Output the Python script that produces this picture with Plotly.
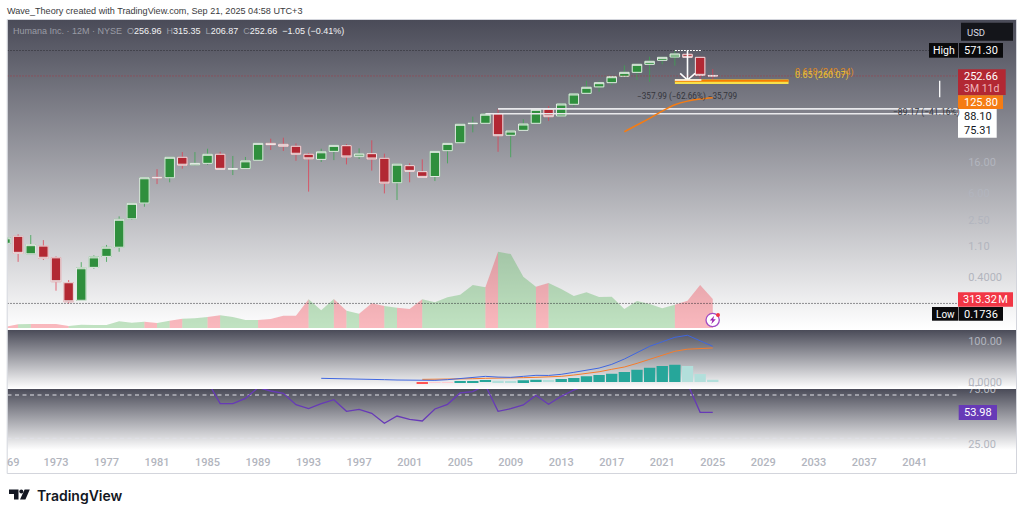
import plotly.graph_objects as go

W, H = 1024, 517

# ---------- data ----------
years = list(range(1969, 2026))
opens = [1.19,1.49,.851,1.09,.748,.337,.192,.551,.783,1.05,2.61,4.32,9.85,9.71,18.7,14.7,15.4,20.6,12.7,13.0,
         17.0,29.2,28.3,26.6,20.6,17.5,22.6,27.1,19.1,21.0,18.1,8.28,14.3,11.8,10.1,23.1,29.8,54.8,55.5,75.31,
         37.8,44.3,55.5,87.4,70.3,102,145,178,204,250,284,367,417,464,506,459,256.96]
highs = [1.42,1.59,1.55,1.32,.783,.367,.651,.811,1.13,2.82,4.28,9.71,12.8,18.7,22.1,22.1,24.6,22.3,19.5,18.9,
         29.2,33.9,35.0,29.2,21.5,24.6,27.4,28.6,24.9,32.2,21.0,15.0,15.4,17.5,22.6,29.2,53.8,68.6,77.7,88.10,
         43.4,63.4,90.3,96.5,106,146,217,215,247,356,367,468,459,571.30,541,468,315.35]
lows = [1.19,.657,.851,.697,.261,.1736,.190,.527,.657,.908,2.53,3.84,7.94,8.40,13.0,14.5,14.7,12.7,10.6,13.0,
        17.0,23.6,22.9,16.7,6.23,16.1,17.1,14.9,17.7,12.2,5.88,4.76,8.40,9.83,8.74,15.4,29.8,41.6,55.5,22.3,
        18.7,44.3,55.5,60.0,70.3,94.3,145,153,189,250,222,210,367,351,423,210,206.87]
closes = [1.42,.863,1.14,.737,.348,.183,.544,.771,1.05,2.57,4.28,9.71,9.71,18.7,14.5,15.4,20.6,12.7,13.0,16.7,
          29.2,28.0,26.6,20.6,17.8,22.3,27.4,18.9,20.8,17.7,8.17,15.0,11.9,9.83,22.6,29.2,53.8,55.5,74.3,37.3,
          43.4,54.3,86.8,68.6,103,142,176,204,247,284,367,404,459,511,459,258,252.66]
volume_m = [14,40,43,43,43,22,36,32,32,72,58,68,54,79,101,104,119,137,119,86,86,97,133,133,310,191,313,187,155,266,
            238,220,205,310,277,331,360,464,440,824,799,554,446,486,421,346,386,335,338,205,292,259,213,252,295,464,313.32]

ma_years = [2018,2019,2020,2021,2022,2023,2024,2025]
ma_values = [42.4,52.6,65,82,100.5,113,121,125.80]

macd_years = list(range(1994, 2026))
macd_line = [9,8,7.7,7.3,6.5,5.7,4.9,4,3.2,4,5.7,8,11.4,13.8,12,11.4,13.8,16.3,16,18.7,23.6,28.5,34,43,56,71.5,87,98,109,114,101,87]
signal_years = list(range(2002, 2026))
signal_line = [6.5,6.5,6.5,6.5,8,9,9,9,10.6,11.4,12.2,13.8,17,21,25,31,36.6,45.5,55,66,75,80,82,83]
hist_years = list(range(2002, 2026))
hist_values = [-3.5,-1.5,-1,2,2.3,5,3,2.5,4,5.7,5,7.3,9.8,13.8,17,20.3,24.4,30,35,39,42.3,39,19.5,5.7]

rsi_years = list(range(1985, 2026))
rsi_values = [82.6,62,62,66.9,76.8,73.7,71.5,61.1,57.4,62,65.7,54.9,56.8,53.1,43.9,50.6,47.5,46,57.1,61.4,71.9,73.1,79,
              54.9,57.4,60.8,69.7,61.4,68.8,74.6,79,79,80,81,82,84,83,82,80.5,54,53.98]

year_ticks = list(range(1973, 2045, 4))
price_ticks = [16, 6, 2.5, 1.1, 0.4]
price_tick_text = ['16.00', '6.00', '2.50', '1.10', '0.4000']

high_price, low_price, last_price = 571.30, 0.1736, 252.66
level_upper, level_lower = 88.10, 75.31
fib_orange, fib_yellow, fib_white = 217, 210, 222
# -------------------------

x_range = [1973 - (56 - 7.5) / 12.63, 1973 + (958 - 56) / 12.63]
log_range = [-1.116, 3.181]

def dom(top, bottom):
    return [(H - bottom) / H, (H - top) / H]

fig = go.Figure()

# pane backgrounds on a full-page helper axis
DARK = '#4a4b58'
for top, bottom in [(20, 329), (330, 388.5), (389, 450)]:
    fig.add_trace(go.Scatter(
        x=[7.5, 1016, 1016, 7.5, 7.5], y=[top, top, bottom, bottom, top], mode='none', fill='toself',
        fillgradient=dict(type='vertical', start=top, stop=bottom,
                          colorscale=[[0, DARK], [1, '#ffffff']]),
        xaxis='x', yaxis='y', hoverinfo='skip', showlegend=False))

# volume area: one filled run per candle direction
GREEN_FILL = 'rgba(76,175,80,0.35)'
RED_FILL = 'rgba(242,54,69,0.35)'
runs, start = [], 0
def seg_up(i):  # segment i -> i+1 follows the direction of the later candle
    return closes[i + 1] >= opens[i + 1]
for i in range(len(years) - 1):
    if i == len(years) - 2 or seg_up(i + 1) != seg_up(i):
        runs.append((start, i + 1, seg_up(i)))
        start = i + 1
for a, b, up in runs:
    fig.add_trace(go.Scatter(
        x=years[a:b + 1], y=volume_m[a:b + 1], mode='none', fill='tozeroy',
        fillcolor=GREEN_FILL if up else RED_FILL, xaxis='x2', yaxis='y2',
        hoverinfo='skip', showlegend=False))

P = dict(xaxis='x2', yaxis='y3', hoverinfo='skip', showlegend=False)

# reference lines on the price pane
fig.add_trace(go.Scatter(x=x_range, y=[high_price] * 2, mode='lines', line=dict(color='#2a2b30', width=1, dash='1px,2px'), **P))
fig.add_trace(go.Scatter(x=x_range, y=[low_price] * 2, mode='lines', line=dict(color='#2a2b30', width=1, dash='1px,2px'), **P))
fig.add_trace(go.Scatter(x=x_range, y=[last_price] * 2, mode='lines', line=dict(color='rgba(178,40,51,0.75)', width=1, dash='1px,2px'), **P))
fig.add_trace(go.Scatter(x=[2008, x_range[1]], y=[level_upper] * 2, mode='lines', line=dict(color='#e9e9ec', width=1.6), **P))
fig.add_trace(go.Scatter(x=[2007, x_range[1]], y=[level_lower] * 2, mode='lines', line=dict(color='#e9e9ec', width=1.6), **P))

# measurement arrow, under the candles
fig.add_trace(go.Scatter(x=[2022, 2024.1], y=[high_price] * 2, mode='lines', line=dict(color='#ffffff', width=1.2, dash='2px,1px'), **P))
fig.add_trace(go.Scatter(x=[2023, 2023], y=[high_price, fib_white], mode='lines', line=dict(color='#ffffff', width=1.6), **P))
fig.add_trace(go.Scatter(x=[2022.42, 2023, 2023.6], y=[275, fib_white, 275], mode='lines', line=dict(color='#ffffff', width=1.6), **P))

# wicks (coloured) then bodies (white outline)
GREEN, RED = '#2f8f3d', '#b22833'
fig.add_trace(go.Candlestick(
    x=years, open=opens, high=highs, low=lows, close=closes, whiskerwidth=0,
    increasing=dict(line=dict(color='rgba(60,165,80,0.8)', width=1), fillcolor=GREEN),
    decreasing=dict(line=dict(color='rgba(225,60,80,0.75)', width=1), fillcolor=RED), **P))
fig.add_trace(go.Candlestick(
    x=years, open=opens, close=closes, whiskerwidth=0,
    high=[max(o, c) for o, c in zip(opens, closes)], low=[min(o, c) for o, c in zip(opens, closes)],
    increasing=dict(line=dict(color='rgba(238,238,238,0.95)', width=1), fillcolor=GREEN),
    decreasing=dict(line=dict(color='rgba(238,238,238,0.95)', width=1), fillcolor=RED), **P))

# moving average
fig.add_trace(go.Scatter(x=ma_years, y=ma_values, mode='lines', line=dict(color='#f57c13', width=1.5, shape='spline'), **P))

# fibonacci band
fig.add_trace(go.Scatter(x=[2022, 2031], y=[fib_yellow] * 2, mode='lines', line=dict(color='#f7e04b', width=4.5), **P))
fig.add_trace(go.Scatter(x=[2022, 2031], y=[fib_orange] * 2, mode='lines', line=dict(color='#f57c00', width=2), **P))
fig.add_trace(go.Scatter(x=[2022, 2024.1], y=[fib_white] * 2, mode='lines', line=dict(color='#ffffff', width=1.5), **P))

# MACD pane
def hist_color(i):
    v, prev = hist_values[i], hist_values[i - 1] if i else 0
    if v >= 0:
        return '#26a69a' if v > prev else '#b2dfdb'
    return '#ff5252' if v < prev else '#ffcdd2'
fig.add_trace(go.Bar(x=hist_years, y=hist_values, width=0.9,
                     marker=dict(color=[hist_color(i) for i in range(len(hist_values))], line_width=0),
                     xaxis='x2', yaxis='y4', hoverinfo='skip', showlegend=False))
fig.add_trace(go.Scatter(x=signal_years, y=signal_line, mode='lines', line=dict(color='#f57c2b', width=1),
                         xaxis='x2', yaxis='y4', hoverinfo='skip', showlegend=False))
fig.add_trace(go.Scatter(x=macd_years, y=macd_line, mode='lines', line=dict(color='#3f66e0', width=1),
                         xaxis='x2', yaxis='y4', hoverinfo='skip', showlegend=False))

# RSI pane
for lvl in (70, 30):
    fig.add_trace(go.Scatter(x=x_range, y=[lvl, lvl], mode='lines', line=dict(color='#e2e2e8', width=1, dash='4px,3.5px'),
                             xaxis='x2', yaxis='y5', hoverinfo='skip', showlegend=False))
fig.add_trace(go.Scatter(x=rsi_years, y=rsi_values, mode='lines', line=dict(color='#673ab7', width=1.3),
                         xaxis='x2', yaxis='y5', hoverinfo='skip', showlegend=False))

# ---------- furniture drawn in page pixels ----------
shapes, ann = [], []
def rect(x0, y0, x1, y1, color):
    shapes.append(dict(type='rect', xref='x', yref='y', x0=x0, x1=x1, y0=y0, y1=y1,
                       fillcolor=color, line=dict(width=0), layer='above'))
def text(x, y, s, size=11, color='#ffffff', anchor='center', font='Roboto', weight=None):
    f = dict(size=size, color=color, family=font)
    if weight: f['weight'] = weight
    ann.append(dict(x=x, y=y, xref='x', yref='y', text=s, showarrow=False, xanchor=anchor, yanchor='middle',
                    font=f, borderpad=0, borderwidth=0))

# clip the tick label that sticks out above the RSI pane
rect(958, 386.5, 1016, 389, '#ffffff')
shapes.append(dict(type='rect', xref='x', yref='y', x0=7.2, x1=1016.5, y0=19.5, y1=473.5,
                   line=dict(color='#d3d5dc', width=1), layer='above'))

rect(961, 22.7, 1013, 40.7, '#14151a')
text(967, 32, 'USD', 9.5, '#d9dae0', 'left')
rect(929, 43, 958, 57.7, '#0a0a0c'); text(943.5, 50.5, 'High', 10.5)
rect(959, 43, 1003, 57.7, '#0a0a0c'); text(981, 50.5, '571.30', 11)
rect(958, 69.3, 1005.7, 95, RED); text(981, 76.2, '252.66', 11); text(981, 88, '3M 11d', 10.5, '#f0b6bb')
rect(958, 95.3, 1003, 109, '#f57c13'); text(981, 102.3, '125.80', 11)
rect(958, 109, 996.7, 137.7, '#ffffff'); text(977.5, 116.5, '88.10', 11, '#131722'); text(977.5, 130.5, '75.31', 11, '#131722')
rect(958, 292.3, 1013, 306.7, '#f23645'); text(985.5, 299.5, '313.32\u202fM', 11)
rect(932, 307, 958, 320.7, '#0a0a0c'); text(945, 314, 'Low', 10)
rect(958.5, 307, 1003, 320.7, '#0a0a0c'); text(981, 314, '0.1736', 11)
rect(958.7, 405, 997, 420, '#673ab7'); text(978, 412.6, '53.98', 11)

# small white tick near the scale
shapes.append(dict(type='line', xref='x', yref='y', x0=939.7, x1=939.7, y0=80.7, y1=97.3,
                   line=dict(color='#ffffff', width=1.3), layer='above'))

text(7, 11, 'Wave_Theory created with TradingView.com, Sep 21, 2025 04:58 UTC+3', 9.1, '#3a3b40', 'left', 'Liberation Sans')
G, Wh = '#9a9ca5', '#f2f2f4'
nb = '\u00a0'
legend = (f'<span style="color:{G}">Humana Inc. · 12M · NYSE{nb}{nb}O</span><span style="color:{Wh}">256.96{nb}{nb}</span>'
          f'<span style="color:{G}">H</span><span style="color:{Wh}">315.35{nb}{nb}</span>'
          f'<span style="color:{G}">L</span><span style="color:{Wh}">206.87{nb}{nb}</span>'
          f'<span style="color:{G}">C</span><span style="color:{Wh}">252.66{nb}{nb}−1.05 (−0.41%)</span>')
text(13, 31, legend, 9, Wh, 'left', 'Liberation Sans')

text(687, 96, '−357.99 (−62.66%) −35,799', 8.2, '#34353c')
text(926, 112.3, '−89.17 (−41.16%)', 8.5, '#34353c')
text(795, 72, '0.618 (249.34)', 9, '#e08a1e', 'left')
text(795, 75.3, '0.65 (260.07)', 9, '#e6c53a', 'left')
text(7, 462, '69', 11, '#b2b5be', 'left', 'Roboto', 500)

# lightning badge
shapes.append(dict(type='circle', xref='x', yref='y', x0=706, x1=719.3, y0=313.4, y1=326.7,
                   fillcolor='#ffffff', line=dict(color='#a24bc4', width=1.3), layer='above'))
shapes.append(dict(type='path', xref='x', yref='y', layer='above', fillcolor='#9c27b0', line=dict(width=0),
                   path='M 714.2 315.8 L 709.8 320.6 L 712.4 320.6 L 711.2 324.2 L 715.8 319.2 L 713.2 319.2 Z'))
shapes.append(dict(type='circle', xref='x', yref='y', x0=716, x1=720, y0=313, y1=317,
                   fillcolor='#f23645', line=dict(width=0), layer='above'))

# TradingView logo
LOGO = '#131722'
shapes.append(dict(type='path', xref='x', yref='y', layer='above', fillcolor=LOGO, line=dict(width=0),
                   path='M 9 489.5 L 18.5 489.5 L 18.5 499.5 L 14 499.5 L 14 494 L 9 494 Z'))
shapes.append(dict(type='circle', xref='x', yref='y', x0=19.3, x1=23.3, y0=489.6, y1=493.6,
                   fillcolor=LOGO, line=dict(width=0), layer='above'))
shapes.append(dict(type='path', xref='x', yref='y', layer='above', fillcolor=LOGO, line=dict(width=0),
                   path='M 24.6 489.5 L 29.8 489.5 L 25.4 499.5 L 20 499.5 Z'))
text(36.5, 495, 'TradingView', 14, LOGO, 'left', 'Inter', 600)

TICK = dict(size=11, color='#b2b5be', family='Roboto')
fig.update_layout(
    width=W, height=H, margin=dict(l=0, r=0, t=0, b=0, autoexpand=False), paper_bgcolor='#ffffff', plot_bgcolor='rgba(0,0,0,0)',
    showlegend=False, barmode='overlay', boxmode='overlay', boxgap=0.25, boxgroupgap=0, shapes=shapes, annotations=ann,
    xaxis=dict(domain=[0, 1], range=[0, W], visible=False, fixedrange=True),
    yaxis=dict(domain=[0, 1], range=[H, 0], visible=False, fixedrange=True),
    xaxis2=dict(domain=[7.5 / W, 958 / W], range=x_range, anchor='y5', showgrid=False, zeroline=False, showline=False,
                rangeslider=dict(visible=False), tickmode='array', tickvals=year_ticks,
                ticktext=[str(v) for v in year_ticks], ticks='outside', ticklen=2, tickcolor='rgba(0,0,0,0)',
                tickfont=dict(size=11, color='#b2b5be', family='Roboto', weight=500), fixedrange=True),
    yaxis2=dict(domain=dom(20, 329), range=[-10.8, 3326], visible=False, anchor='x2', fixedrange=True),
    yaxis3=dict(domain=dom(20, 329), type='log', range=log_range, overlaying='y2', anchor='x2', side='right',
                showgrid=False, zeroline=False, showline=False, tickmode='array', tickvals=price_ticks,
                ticktext=price_tick_text, ticks='outside', ticklen=7, tickcolor='rgba(0,0,0,0)', tickfont=TICK, fixedrange=True),
    yaxis4=dict(domain=dom(330, 388), range=[-14.6, 126.8], anchor='x2', side='right', showgrid=False, zeroline=False,
                showline=False, tickmode='array', tickvals=[100, 0], ticktext=['100.00', '0.0000'], ticks='outside',
                ticklen=7, tickcolor='rgba(0,0,0,0)', tickfont=TICK, fixedrange=True),
    yaxis5=dict(domain=dom(389, 450), range=[19.2, 75.55], anchor='x2', side='right', showgrid=False, zeroline=False,
                showline=False, tickmode='array', tickvals=[75, 25], ticktext=['75.00', '25.00'], ticks='outside',
                ticklen=7, tickcolor='rgba(0,0,0,0)', tickfont=TICK, fixedrange=True),
)
fig.write_html('out.html', config=dict(displayModeBar=False),
               post_script="document.body.style.margin='0';document.documentElement.style.overflow='hidden';")
